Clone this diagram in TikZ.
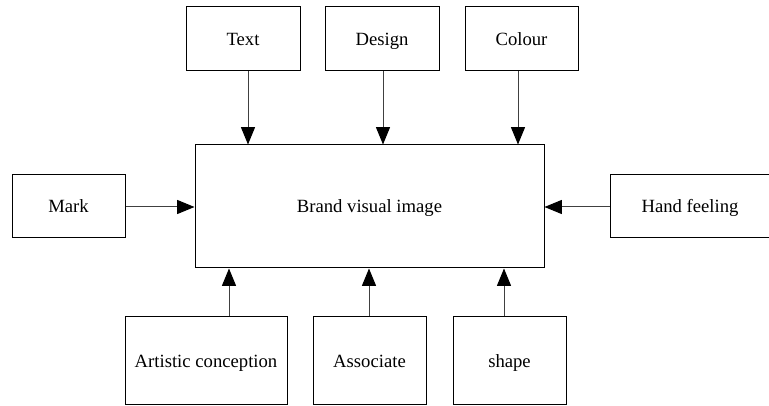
\documentclass[tikz,border=0pt]{standalone}
\usepackage{fontspec}
\setmainfont{Liberation Serif}
\usetikzlibrary{arrows.meta}
\begin{document}
\begin{tikzpicture}[x=0.75pt,y=-0.75pt,
  box/.style={draw=black,line width=0.75pt,rectangle,inner sep=0pt,text height=11pt,text depth=1.5pt,font=\fontsize{14pt}{16pt}\selectfont},
  arr/.style={draw=black!75,line width=0.75pt,-{Triangle[length=13pt,width=10.5pt,fill=black,color=black]}}]
\clip (0,0) rectangle (769,406);
\fill[white] (0,0) rectangle (769,406);
% boxes (width/height given in px*0.75)
\node[box,minimum width=85.5pt,minimum height=48pt] (text) at (243,39) {Text};
\node[box,minimum width=85.5pt,minimum height=48pt] (design) at (382,39) {Design};
\node[box,minimum width=84.75pt,minimum height=48pt] (colour) at (521.5,39) {Colour};
\node[box,minimum width=84.75pt,minimum height=47.25pt] (mark) at (68.5,206.5) {Mark};
\node[box,minimum width=261.75pt,minimum height=92.25pt] (brand) at (369.5,206.5) {Brand visual image};
\node[box,minimum width=120pt,minimum height=47.25pt] (hand) at (690,206.5) {Hand feeling};
\node[box,minimum width=121.5pt,minimum height=66pt] (art) at (206,361) {Artistic conception};
\node[box,minimum width=84.75pt,minimum height=66pt] (assoc) at (369.5,361) {Associate};
\node[box,minimum width=84.75pt,minimum height=66pt] (shape) at (509.5,361) {shape};
% arrow positions
\coordinate (c1) at (248,0);
\coordinate (c2) at (383,0);
\coordinate (c3) at (518,0);
\coordinate (c4) at (229,0);
\coordinate (c5) at (369,0);
\coordinate (c6) at (504,0);
\coordinate (r1) at (0,207);
\draw[arr] (text.south -| c1) -- (brand.north -| c1);
\draw[arr] (design.south -| c2) -- (brand.north -| c2);
\draw[arr] (colour.south -| c3) -- (brand.north -| c3);
\draw[arr] (mark.east |- r1) -- (brand.west |- r1);
\draw[arr] (hand.west |- r1) -- (brand.east |- r1);
\draw[arr] (art.north -| c4) -- (brand.south -| c4);
\draw[arr] (assoc.north -| c5) -- (brand.south -| c5);
\draw[arr] (shape.north -| c6) -- (brand.south -| c6);
\end{tikzpicture}
\end{document}
